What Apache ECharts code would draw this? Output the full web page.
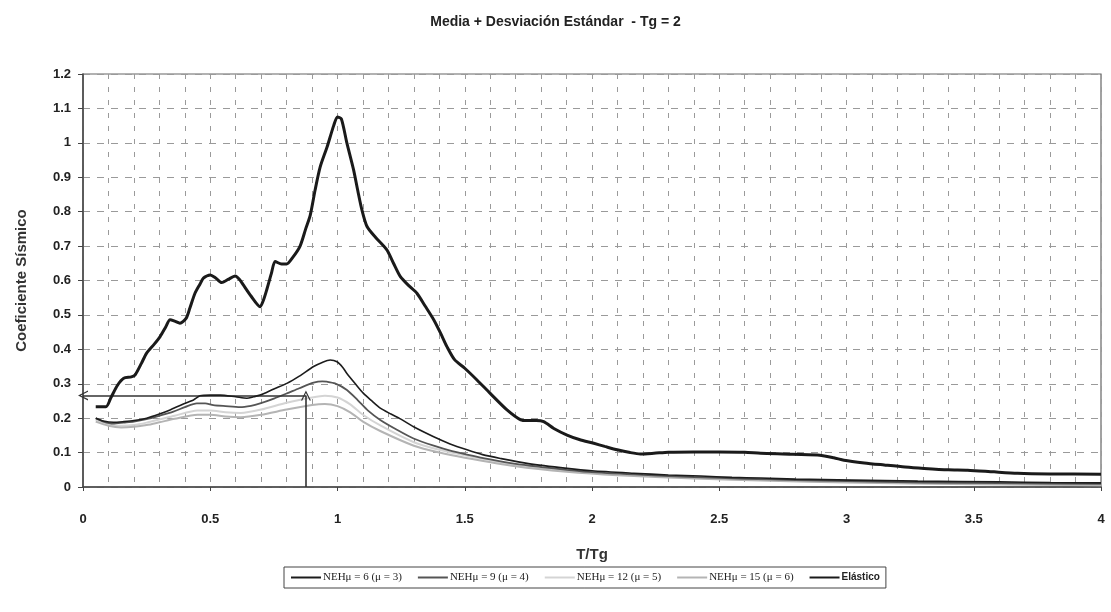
<!DOCTYPE html>
<html>
<head>
<meta charset="utf-8">
<script src="https://cdn.jsdelivr.net/npm/echarts@6/dist/echarts.min.js"></script>
<style>
  html, body { margin: 0; padding: 0; background: #fff; }
  #chart { width: 1111px; height: 612px; }
</style>
</head>
<body>
<div id="chart"></div>
<script>
// Normalised period T/Tg and seismic coefficient for each spectrum
const elasticT = [0.05,0.09,0.11,0.135,0.16,0.19,0.205,0.23,0.25,0.28,0.303,0.325,0.342,0.36,0.381,0.405,0.42,0.44,0.46,0.473,0.5,0.52,0.545,0.57,0.598,0.615,0.63,0.66,0.696,0.71,0.722,0.74,0.755,0.78,0.8,0.825,0.853,0.875,0.893,0.912,0.932,0.96,0.985,1.0,1.015,1.037,1.063,1.08,1.096,1.116,1.15,1.194,1.22,1.247,1.28,1.312,1.345,1.378,1.405,1.43,1.46,1.5,1.548,1.6,1.666,1.72,1.745,1.78,1.81,1.85,1.902,1.95,2.007,2.05,2.099,2.15,2.19,2.243,2.3,2.4,2.5,2.6,2.663,2.75,2.886,2.95,2.99,3.07,3.148,3.23,3.305,3.4,3.476,3.58,3.672,3.8,4.0];
const elasticC = [0.233,0.233,0.26,0.295,0.316,0.32,0.326,0.36,0.389,0.415,0.437,0.465,0.486,0.482,0.476,0.49,0.52,0.563,0.59,0.607,0.616,0.608,0.594,0.603,0.613,0.603,0.587,0.555,0.524,0.545,0.573,0.62,0.655,0.648,0.648,0.668,0.70,0.75,0.79,0.863,0.93,0.99,1.05,1.075,1.07,0.999,0.922,0.86,0.805,0.757,0.725,0.689,0.65,0.611,0.585,0.563,0.525,0.486,0.447,0.408,0.37,0.345,0.311,0.272,0.224,0.195,0.193,0.193,0.19,0.17,0.151,0.138,0.127,0.118,0.108,0.1,0.096,0.098,0.101,0.102,0.102,0.101,0.098,0.096,0.093,0.085,0.078,0.07,0.064,0.058,0.054,0.05,0.049,0.044,0.04,0.038,0.037];

const neh6T = [0.05,0.08,0.12,0.16,0.2,0.25,0.3,0.342,0.39,0.434,0.46,0.5,0.539,0.6,0.644,0.67,0.696,0.75,0.801,0.85,0.906,0.94,0.971,0.998,1.02,1.037,1.07,1.102,1.135,1.168,1.21,1.247,1.299,1.378,1.44,1.509,1.57,1.64,1.75,1.902,2.0,2.164,2.3,2.427,2.55,2.663,2.8,3.02,3.28,3.6,3.8,4.0];
const neh6C = [0.2,0.192,0.188,0.19,0.193,0.2,0.212,0.224,0.24,0.253,0.265,0.267,0.267,0.262,0.258,0.262,0.267,0.285,0.301,0.322,0.35,0.362,0.369,0.364,0.348,0.33,0.3,0.272,0.25,0.229,0.212,0.198,0.175,0.146,0.126,0.108,0.094,0.083,0.068,0.054,0.047,0.04,0.035,0.032,0.028,0.026,0.023,0.02,0.017,0.015,0.013,0.012];

const neh9T = [0.05,0.08,0.119,0.16,0.2,0.25,0.3,0.355,0.4,0.447,0.48,0.512,0.56,0.617,0.66,0.696,0.75,0.801,0.85,0.906,0.94,0.958,0.99,1.037,1.08,1.12,1.168,1.23,1.299,1.378,1.45,1.509,1.6,1.7,1.8,1.9,2.0,2.2,2.4,2.6,2.8,3.0,3.3,3.6,4.0];
const neh9C = [0.2,0.19,0.184,0.187,0.19,0.197,0.207,0.219,0.232,0.243,0.243,0.238,0.235,0.232,0.236,0.243,0.257,0.272,0.287,0.303,0.307,0.306,0.301,0.282,0.252,0.222,0.195,0.168,0.141,0.12,0.104,0.094,0.08,0.067,0.058,0.05,0.043,0.035,0.029,0.024,0.02,0.017,0.013,0.011,0.009];

const neh12T = [0.05,0.1,0.15,0.2,0.25,0.3,0.36,0.45,0.5,0.56,0.62,0.7,0.8,0.9,0.95,1.0,1.05,1.1,1.17,1.3,1.4,1.5,1.7,1.9,2.1,2.4,2.7,3.0,3.5,4.0];
const neh12C = [0.195,0.182,0.178,0.18,0.187,0.196,0.207,0.222,0.222,0.217,0.215,0.225,0.245,0.26,0.265,0.26,0.24,0.21,0.178,0.13,0.108,0.092,0.064,0.047,0.037,0.027,0.02,0.015,0.01,0.007];

const neh15T = [0.05,0.1,0.15,0.2,0.25,0.3,0.36,0.45,0.5,0.56,0.62,0.7,0.8,0.9,0.95,1.0,1.05,1.1,1.17,1.3,1.4,1.5,1.7,1.9,2.1,2.4,2.7,3.0,3.5,4.0];
const neh15C = [0.19,0.178,0.173,0.175,0.18,0.188,0.198,0.21,0.21,0.205,0.203,0.21,0.225,0.238,0.241,0.235,0.217,0.19,0.162,0.12,0.1,0.085,0.06,0.044,0.034,0.025,0.018,0.013,0.008,0.005];

// Reading of the design coefficient for the chosen period
const readT = 0.876;
const readC = 0.266;

const seriesNames = ['NEHμ = 6 (μ = 3)', 'NEHμ = 9 (μ = 4)', 'NEHμ = 12 (μ = 5)', 'NEHμ = 15 (μ = 6)', 'Elástico'];

function zip(xs, ys) { return xs.map((x, i) => [x, ys[i]]); }

const sans = 'Liberation Sans, Arial, sans-serif';
const serif = 'Liberation Serif, Times New Roman, serif';
const chevron = 'path://M0,12 L6,0 L12,12 L10.4,12 L6,3.2 L1.6,12 Z';

function curve(name, xs, ys, color, width, z) {
  return {
    name: name, type: 'line', data: zip(xs, ys),
    showSymbol: false, symbol: 'none', smooth: 0.25, z: z,
    lineStyle: { color: color, width: width }, itemStyle: { color: color },
    animation: false
  };
}

const chart = echarts.init(document.getElementById('chart'), null, { renderer: 'canvas' });
chart.setOption({
  backgroundColor: '#ffffff',
  animation: false,
  title: {
    text: 'Media + Desviación Estándar  - Tg = 2',
    left: 'center', top: 10,
    textStyle: { fontFamily: sans, fontSize: 14, fontWeight: 'bold', color: '#222' }
  },
  grid: {
    left: 83, right: 10, top: 74, bottom: 125,
    show: true, borderColor: '#666', borderWidth: 1.2, backgroundColor: 'transparent'
  },
  legend: {
    left: 284, top: 567,
    itemWidth: 30, itemHeight: 10, itemGap: 15,
    padding: [5, 6], borderColor: '#444', borderWidth: 1,
    itemStyle: { opacity: 0 },
    data: seriesNames.map((n, i) => ({
      name: n,
      textStyle: i === 4
        ? { fontFamily: sans, fontWeight: 'bold', fontSize: 10, color: '#222' }
        : { fontFamily: serif, fontSize: 11, color: '#222' }
    })),
    textStyle: { padding: [0, 0, 0, -3] }
  },
  xAxis: {
    type: 'value', min: 0, max: 4, interval: 0.5,
    name: 'T/Tg', nameLocation: 'middle', nameGap: 60,
    nameTextStyle: { fontFamily: sans, fontSize: 15, fontWeight: 'bold', color: '#333' },
    axisLine: { show: true, onZero: false, lineStyle: { color: '#444', width: 1.5 } },
    axisTick: { show: true, length: 4, lineStyle: { color: '#444' } },
    axisLabel: { margin: 26, fontFamily: sans, fontSize: 13, fontWeight: 'bold', color: '#222' },
    splitLine: { show: true, lineStyle: { color: '#9a9a9a', type: [5, 8], width: 1 } },
    minorTick: { show: false, splitNumber: 5 },
    minorSplitLine: { show: true, lineStyle: { color: '#9a9a9a', type: [5, 8], width: 1 } }
  },
  yAxis: {
    type: 'value', min: 0, max: 1.2, interval: 0.1,
    name: 'Coeficiente Sísmico', nameLocation: 'middle', nameGap: 54,
    nameTextStyle: { fontFamily: sans, fontSize: 15, fontWeight: 'bold', color: '#333' },
    axisLine: { show: true, lineStyle: { color: '#444', width: 1.5 } },
    axisTick: { show: true, length: 5, lineStyle: { color: '#444' } },
    axisLabel: { margin: 12, fontFamily: sans, fontSize: 13, fontWeight: 'bold', color: '#222' },
    splitLine: { show: true, lineStyle: { color: '#9a9a9a', type: [7, 7], width: 1 } }
  },
  series: [
    curve(seriesNames[2], neh12T, neh12C, '#d4d4d4', 2, 2),
    curve(seriesNames[3], neh15T, neh15C, '#b4b4b4', 2, 3),
    curve(seriesNames[1], neh9T, neh9C, '#555555', 1.8, 4),
    curve(seriesNames[0], neh6T, neh6C, '#1c1c1c', 1.6, 5),
    curve(seriesNames[4], elasticT, elasticC, '#1a1a1a', 3, 6),
    {
      name: 'lectura', type: 'line', data: [], z: 7, animation: false,
      markLine: {
        silent: true, animation: false,
        symbol: ['none', chevron], symbolSize: [10, 10],
        label: { show: false },
        lineStyle: { color: '#333', width: 1.6, type: 'solid' },
        data: [
          [{ coord: [readT, 0] }, { coord: [readT, readC] }],
          [{ coord: [readT, readC] }, { coord: [0, readC] }]
        ]
      }
    }
  ]
});
</script>
</body>
</html>
